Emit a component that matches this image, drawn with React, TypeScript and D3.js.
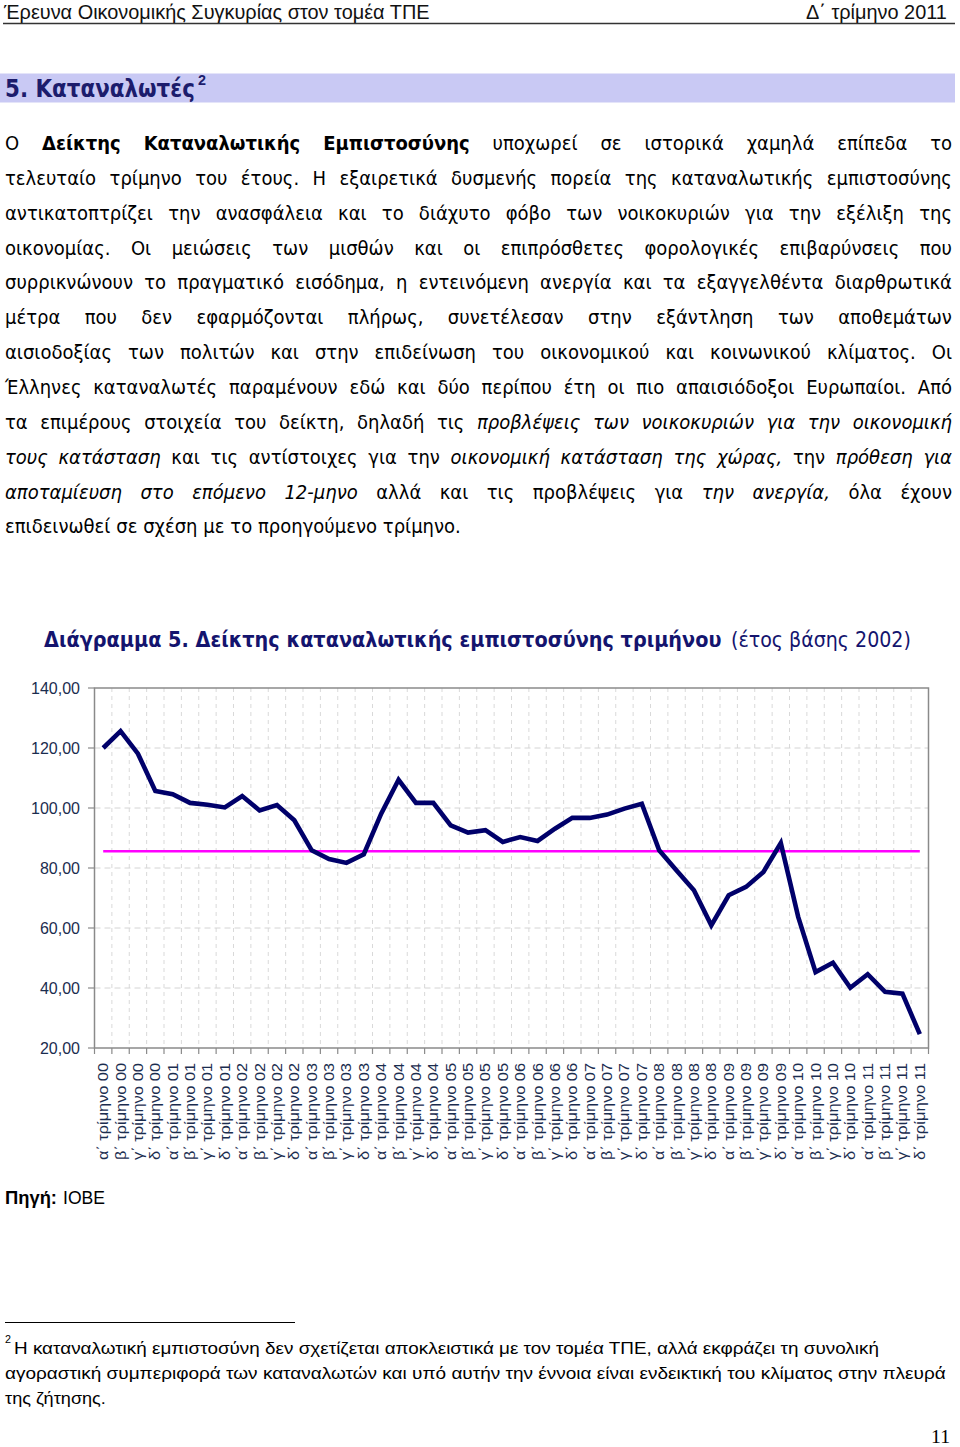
import React, { useEffect, useRef } from 'react';
import * as d3 from 'd3';

// x axis categories: quarter + year
const quarters = ['α΄', 'β΄', 'γ΄', 'δ΄'];
const years = ['00', '01', '02', '03', '04', '05', '06', '07', '08', '09', '10', '11'];
const categories = years.flatMap(y => quarters.map(q => `${q} τρίμηνο ${y}`));

// quarterly consumer confidence index (base year 2002)
const confidenceIndex = [
  120.0, 125.6, 118.1, 105.7, 104.6, 101.7, 101.1, 100.2,
  104.0, 99.2, 101.0, 95.9, 85.9, 83.0, 81.7, 84.6,
  98.1, 109.4, 101.7, 101.7, 94.2, 91.8, 92.6, 88.7,
  90.3, 89.0, 93.1, 96.7, 96.7, 97.8, 99.8, 101.4,
  85.9, 79.2, 72.6, 60.9, 70.9, 73.7, 78.7, 88.3,
  63.7, 45.3, 48.4, 40.1, 44.6, 38.7, 38.1, 24.6,
];
const averageLevel = 85.6;
const yTicks = [20, 40, 60, 80, 100, 120, 140];

type Run = [string, 'n' | 'b' | 'i'];

const paragraphLines: Run[][] = [
  [['Ο', 'n'], ['Δείκτης Καταναλωτικής Εμπιστοσύνης', 'b'], ['υποχωρεί σε ιστορικά χαμηλά επίπεδα το', 'n']],
  [['τελευταίο τρίμηνο του έτους. Η εξαιρετικά δυσμενής πορεία της καταναλωτικής εμπιστοσύνης', 'n']],
  [['αντικατοπτρίζει την ανασφάλεια και το διάχυτο φόβο των νοικοκυριών για την εξέλιξη της', 'n']],
  [['οικονομίας. Οι μειώσεις των μισθών και οι επιπρόσθετες φορολογικές επιβαρύνσεις που', 'n']],
  [['συρρικνώνουν το πραγματικό εισόδημα, η εντεινόμενη ανεργία και τα εξαγγελθέντα διαρθρωτικά', 'n']],
  [['μέτρα που δεν εφαρμόζονται πλήρως, συνετέλεσαν στην εξάντληση των αποθεμάτων', 'n']],
  [['αισιοδοξίας των πολιτών και στην επιδείνωση του οικονομικού και κοινωνικού κλίματος. Οι', 'n']],
  [['Έλληνες καταναλωτές παραμένουν εδώ και δύο περίπου έτη οι πιο απαισιόδοξοι Ευρωπαίοι. Από', 'n']],
  [['τα επιμέρους στοιχεία του δείκτη, δηλαδή τις', 'n'], ['προβλέψεις των νοικοκυριών για την οικονομική', 'i']],
  [['τους κατάσταση', 'i'], ['και τις αντίστοιχες για την', 'n'], ['οικονομική κατάσταση της χώρας,', 'i'], ['την', 'n'], ['πρόθεση για', 'i']],
  [['αποταμίευση στο επόμενο 12-μηνο', 'i'], ['αλλά και τις προβλέψεις για', 'n'], ['την ανεργία,', 'i'], ['όλα έχουν', 'n']],
  [['επιδεινωθεί σε σχέση με το προηγούμενο τρίμηνο.', 'n']],
];

const footnoteLines = [
  'Η καταναλωτική εμπιστοσύνη δεν σχετίζεται αποκλειστικά με τον τομέα ΤΠΕ, αλλά εκφράζει τη συνολική',
  'αγοραστική συμπεριφορά των καταναλωτών και υπό αυτήν την έννοια είναι ενδεικτική του κλίματος στην πλευρά',
  'της ζήτησης.',
];

const SANS = '"Liberation Sans", Arial, sans-serif';
const BODY = '"DejaVu Sans", Verdana, sans-serif';
const NAVY = '#1b2d4f';

const App: React.FC = () => {
  const svgRef = useRef<SVGSVGElement>(null);

  useEffect(() => {
    if (!svgRef.current) return;
    const svg = d3.select(svgRef.current);
    svg.selectAll('*').remove();

    svg.append('rect').attr('width', 960).attr('height', 1447).attr('fill', '#fff');

    // place a text so it spans x0..x1, squeezing it horizontally with a transform
    const fitText = (txt: string, x0: number, x1: number, y: number, size: number, opts: any = {}) => {
      const t = svg.append('text')
        .attr('font-family', opts.family || SANS)
        .attr('font-size', size)
        .attr('font-weight', opts.weight || 'normal')
        .attr('fill', opts.fill || '#000')
        .text(txt);
      const w = (t.node() as SVGTextElement).getComputedTextLength() || 1;
      t.attr('transform', `translate(${x0},${y}) scale(${(x1 - x0) / w},1)`);
      return t;
    };

    // page header
    fitText('Έρευνα Οικονομικής Συγκυρίας στον τομέα ΤΠΕ', 4, 430, 19, 20, { fill: '#111' });
    fitText('Δ΄ τρίμηνο 2011', 806, 947, 19, 20, { fill: '#111' });
    svg.append('line').attr('x1', 3).attr('x2', 955).attr('y1', 23.5).attr('y2', 23.5)
      .attr('stroke', '#333').attr('stroke-width', 1.5);

    // section heading with superscript note mark
    svg.append('rect').attr('x', 0).attr('y', 73.5).attr('width', 955).attr('height', 29).attr('fill', '#c9c9f4');
    fitText('5. Καταναλωτές', 5, 195, 97, 24, { weight: 'bold', fill: '#1c1c6c', family: BODY });
    fitText('2', 198, 206, 85, 14, { weight: 'bold', fill: '#1c1c6c' });

    // justified paragraph (Tahoma-like: DejaVu squeezed horizontally)
    const para = svg.append('g');
    const X0 = 5, X1 = 952;
    paragraphLines.forEach((runs, li) => {
      const y = 150 + li * 34.85;
      const words: { w: string; s: string }[] = [];
      runs.forEach(([t, s]) => t.split(' ').filter(Boolean).forEach(w => words.push({ w, s })));
      const nodes = words.map(({ w, s }) =>
        para.append('text')
          .attr('font-family', BODY)
          .attr('font-size', 20)
          .attr('font-weight', s === 'b' ? 'bold' : 'normal')
          .attr('font-style', s === 'i' ? 'italic' : 'normal')
          .attr('fill', '#000')
          .text(w));
      const widths = nodes.map(n => (n.node() as SVGTextElement).getComputedTextLength());
      const sum = d3.sum(widths);
      const last = li === paragraphLines.length - 1;
      let k = 0.9;
      let gap = last ? 5.8 : (X1 - X0 - sum * k) / (words.length - 1);
      if (gap < 4) {
        gap = 4;
        k = (X1 - X0 - gap * (words.length - 1)) / sum;
      }
      let cx = X0;
      nodes.forEach((n, i) => {
        n.attr('transform', `translate(${cx},${y}) scale(${k},1)`);
        cx += widths[i] * k + gap;
      });
    });

    // chart title
    fitText('Διάγραμμα 5. Δείκτης καταναλωτικής εμπιστοσύνης τριμήνου', 44, 722, 647, 21, { weight: 'bold', fill: '#14146e', family: BODY });
    fitText('(έτος βάσης 2002)', 731, 911, 647, 21, { fill: '#14146e', family: BODY });

    // chart
    const x = d3.scaleBand<string>().domain(categories).range([94.5, 928.5]).padding(0);
    const y = d3.scaleLinear().domain([20, 140]).range([1048, 688]);
    const bw = x.bandwidth();
    const cx = (i: number) => (x(categories[i]) as number) + bw / 2;

    const chart = svg.append('g');
    // vertical dashed grid at category boundaries
    chart.append('g').selectAll('line')
      .data(d3.range(1, categories.length))
      .join('line')
      .attr('x1', i => 94.5 + i * bw).attr('x2', i => 94.5 + i * bw)
      .attr('y1', 688).attr('y2', 1048)
      .attr('stroke', '#d9d9d9').attr('stroke-width', 1).attr('stroke-dasharray', '4,4');
    // horizontal dashed grid
    chart.append('g').selectAll('line')
      .data(yTicks.filter(t => t > 20 && t < 140))
      .join('line')
      .attr('x1', 94.5).attr('x2', 928.5)
      .attr('y1', d => y(d)).attr('y2', d => y(d))
      .attr('stroke', '#d4d4d4').attr('stroke-width', 1).attr('stroke-dasharray', '6,4');

    // frame
    chart.append('rect')
      .attr('x', 94.5).attr('y', 688).attr('width', 834).attr('height', 360)
      .attr('fill', 'none').attr('stroke', '#8a8a8a').attr('stroke-width', 1.5);

    // y ticks + labels
    const yAxis = chart.append('g');
    yAxis.selectAll('line').data(yTicks).join('line')
      .attr('x1', 88).attr('x2', 94.5).attr('y1', d => y(d)).attr('y2', d => y(d))
      .attr('stroke', '#8a8a8a').attr('stroke-width', 1.2);
    yAxis.selectAll('text').data(yTicks).join('text')
      .attr('x', 80).attr('y', d => y(d) + 6)
      .attr('text-anchor', 'end')
      .attr('font-family', SANS).attr('font-size', 16).attr('fill', NAVY)
      .text(d => d3.format('.2f')(d).replace('.', ','));

    // x ticks + labels
    const xAxis = chart.append('g');
    xAxis.selectAll('line').data(d3.range(0, categories.length + 1)).join('line')
      .attr('x1', i => 94.5 + i * bw).attr('x2', i => 94.5 + i * bw)
      .attr('y1', 1048).attr('y2', 1054)
      .attr('stroke', '#8a8a8a').attr('stroke-width', 1.2);
    xAxis.selectAll('text').data(categories).join('text')
      .attr('transform', (_d, i) => `translate(${cx(i)},1063) rotate(-90)`)
      .attr('dy', '0.36em')
      .attr('text-anchor', 'end')
      .attr('font-family', SANS).attr('font-size', 14).attr('fill', NAVY)
      .attr('textLength', 97).attr('lengthAdjust', 'spacingAndGlyphs')
      .text(d => d);

    // average reference line
    chart.append('line')
      .attr('x1', cx(0)).attr('x2', cx(categories.length - 1))
      .attr('y1', y(averageLevel)).attr('y2', y(averageLevel))
      .attr('stroke', '#ff00ff').attr('stroke-width', 2.6);

    // index line
    const line = d3.line<number>().x((_d, i) => cx(i)).y(d => y(d));
    chart.append('path')
      .datum(confidenceIndex)
      .attr('d', line)
      .attr('fill', 'none')
      .attr('stroke', '#00006a')
      .attr('stroke-width', 4.6)
      .attr('stroke-linejoin', 'miter');

    // source
    fitText('Πηγή:', 5, 57, 1204, 18, { weight: 'bold' });
    fitText('ΙΟΒΕ', 63, 105, 1204, 18);

    // footnote
    svg.append('line').attr('x1', 5).attr('x2', 295).attr('y1', 1322.5).attr('y2', 1322.5)
      .attr('stroke', '#000').attr('stroke-width', 1);
    fitText('2', 5, 11, 1343, 11);
    fitText(footnoteLines[0], 14, 879, 1354, 17);
    fitText(footnoteLines[1], 5, 946, 1379, 17);
    fitText(footnoteLines[2], 5, 106, 1404, 17);

    // page number
    fitText('11', 931, 950, 1443, 19, { family: '"Liberation Serif", "Times New Roman", serif' });
  }, []);

  return (
    <svg
      ref={svgRef}
      width={960}
      height={1447}
      style={{ position: 'absolute', left: 0, top: 0, display: 'block' }}
    />
  );
};

export default App;
